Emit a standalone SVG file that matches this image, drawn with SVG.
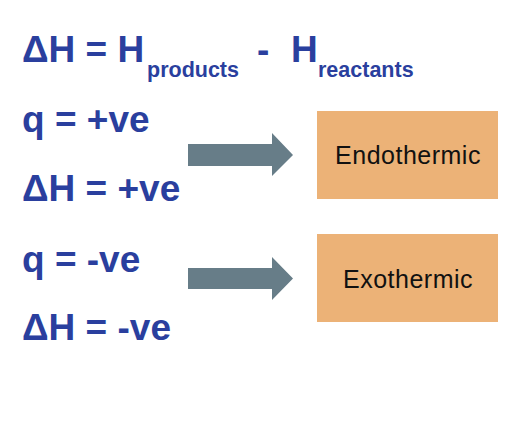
<svg xmlns="http://www.w3.org/2000/svg" width="530" height="424" viewBox="0 0 530 424">
<style>
.eq{font-family:"Liberation Sans",Arial,sans-serif;font-weight:bold;fill:#2a3f9e;font-size:37px}
.sub{font-family:"Liberation Sans",Arial,sans-serif;font-weight:bold;fill:#2a3f9e;font-size:21.5px}
.box{fill:#ecb277}
.lbl{font-family:"Liberation Sans",Arial,sans-serif;font-size:25px;fill:#111;letter-spacing:0.5px;text-anchor:middle}
.arrow{fill:#677d88}
</style>
<rect width="530" height="424" fill="#fff"/>
<g id="formula">
<text class="eq" x="22" y="62">ΔH = H</text>
<text class="sub" x="147" y="77">products</text>
<text class="eq" x="257" y="62">-</text>
<text class="eq" x="291" y="62">H</text>
<text class="sub" x="318" y="77">reactants</text>
</g>
<g id="endo-conditions">
<text class="eq" x="22" y="132">q = +ve</text>
<text class="eq" x="22" y="201">ΔH = +ve</text>
</g>
<g id="exo-conditions">
<text class="eq" x="22" y="272">q = -ve</text>
<text class="eq" x="22" y="340">ΔH = -ve</text>
</g>
<g id="connectors">
<polygon class="arrow" points="188,144 272,144 272,133 293,155 272,176 272,166 188,166"/>
<polygon class="arrow" points="188,268 272,268 272,257 293,278.5 272,300 272,289 188,289"/>
</g>
<g id="endothermic">
<rect class="box" x="317" y="111" width="181" height="88"/>
<text class="lbl" x="408" y="164">Endothermic</text>
</g>
<g id="exothermic">
<rect class="box" x="317" y="234" width="181" height="88"/>
<text class="lbl" x="408" y="288">Exothermic</text>
</g>
</svg>
